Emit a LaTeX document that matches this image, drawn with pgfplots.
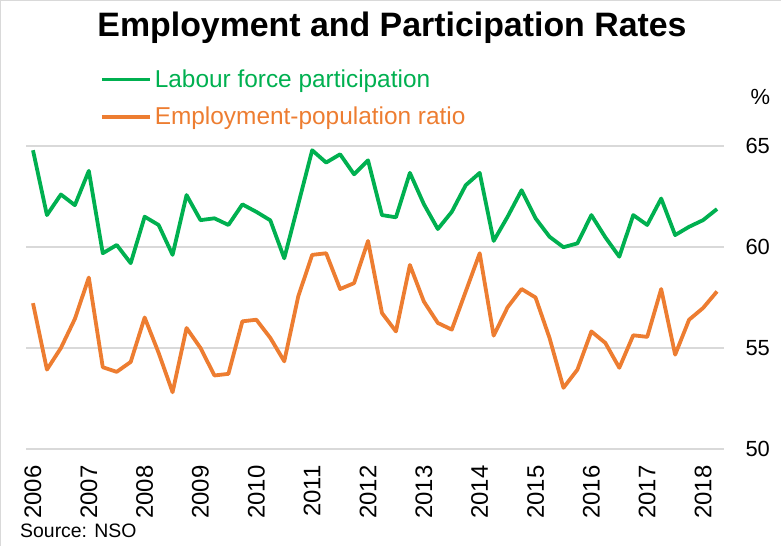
\documentclass[border=0pt]{standalone}
\usepackage{fontspec}
\setmainfont{Liberation Sans}
\usepackage{pgfplots}
\usepackage{pgfplotstable}
\pgfplotsset{compat=1.18}
\definecolor{lfp}{HTML}{00B050}
\definecolor{epr}{HTML}{ED7D31}
\definecolor{gridc}{HTML}{D9D9D9}

\pgfplotstableread{
q val
0 64.79
1 61.58
2 62.60
3 62.07
4 63.77
5 59.69
6 60.10
7 59.20
8 61.50
9 61.09
10 59.61
11 62.57
12 61.33
13 61.42
14 61.09
15 62.11
16 61.74
17 61.32
18 59.44
19 62.11
20 64.79
21 64.18
22 64.59
23 63.60
24 64.29
25 61.58
26 61.47
27 63.67
28 62.12
29 60.89
30 61.74
31 63.06
32 63.67
33 60.30
34 61.50
35 62.81
36 61.42
37 60.51
38 59.99
39 60.18
40 61.58
41 60.48
42 59.52
43 61.58
44 61.09
45 62.40
46 60.59
47 61.00
48 61.33
49 61.88
}\lfptable

\pgfplotstableread{
q val
0 57.22
1 53.93
2 55.00
3 56.44
4 58.49
5 54.05
6 53.82
7 54.31
8 56.51
9 54.76
10 52.81
11 55.99
12 55.00
13 53.64
14 53.72
15 56.32
16 56.40
17 55.50
18 54.34
19 57.55
20 59.61
21 59.69
22 57.92
23 58.21
24 60.30
25 56.73
26 55.82
27 59.11
28 57.30
29 56.24
30 55.91
31 57.80
32 59.69
33 55.61
34 57.02
35 57.92
36 57.50
37 55.50
38 53.03
39 53.93
40 55.82
41 55.25
42 54.02
43 55.63
44 55.55
45 57.92
46 54.67
47 56.40
48 56.98
49 57.80
}\eprtable

\begin{document}
\begin{tikzpicture}
\useasboundingbox (0,0) rectangle (781bp,546bp);
\draw[gridc, line width=1bp] (0.5bp,0) -- (0.5bp,545.5bp) -- (781bp,545.5bp);
\node[anchor=base, font=\bfseries\fontsize{34}{38}\selectfont] at (392bp,509bp) {Employment and Participation Rates};
\node[anchor=west, font=\fontsize{19.5}{22}\selectfont, inner sep=0pt] at (20bp,15bp) {Source: NSO};
\begin{axis}[
  at={(26bp,97bp)}, anchor=south west,
  scale only axis, width=698bp, height=303bp,
  xmin=-0.5, xmax=49.5, ymin=50, ymax=65,
  axis line style={draw=none},
  major tick length=0pt,
  ytick={50,55,60,65},
  ymajorgrids,
  grid style={gridc, line width=1.5bp},
  yticklabel pos=right,
  yticklabel style={font=\fontsize{22}{24}\selectfont, anchor=west, xshift=18bp},
  xtick={0,4,8,12,16,20,24,28,32,36,40,44,48},
  xticklabels={2006,2007,2008,2009,2010,2011,2012,2013,2014,2015,2016,2017,2018},
  xticklabel style={rotate=90, anchor=east, font=\fontsize{24}{26}\selectfont},
  xticklabel shift=13bp,
  /pgf/number format/assume math mode=true,
  /pgf/number format/1000 sep={},
  clip=false,
  legend style={draw=none, fill=none, at={(axis description cs:0.106,1.255)}, anchor=north west,
    font=\fontsize{24.5}{27}\selectfont, row sep=16bp, inner sep=0pt,
    nodes={inner xsep=3bp, inner ysep=1bp}},
  legend cell align=left,
  legend image code/.code={\draw[#1, line width=3.6bp] (0bp,0bp) -- (48bp,0bp);},
]
\addplot[lfp, line width=3.8bp, line join=round] table[x=q, y=val] {\lfptable};
\addlegendentry{\textcolor{lfp}{Labour force participation}}
\addplot[epr, line width=3.8bp, line join=round] table[x=q, y=val] {\eprtable};
\addlegendentry{\textcolor{epr}{Employment-population ratio}}
\node[font=\fontsize{22}{24}\selectfont] at (axis description cs:1.052,1.162) {\%};
\end{axis}
\end{tikzpicture}
\end{document}
